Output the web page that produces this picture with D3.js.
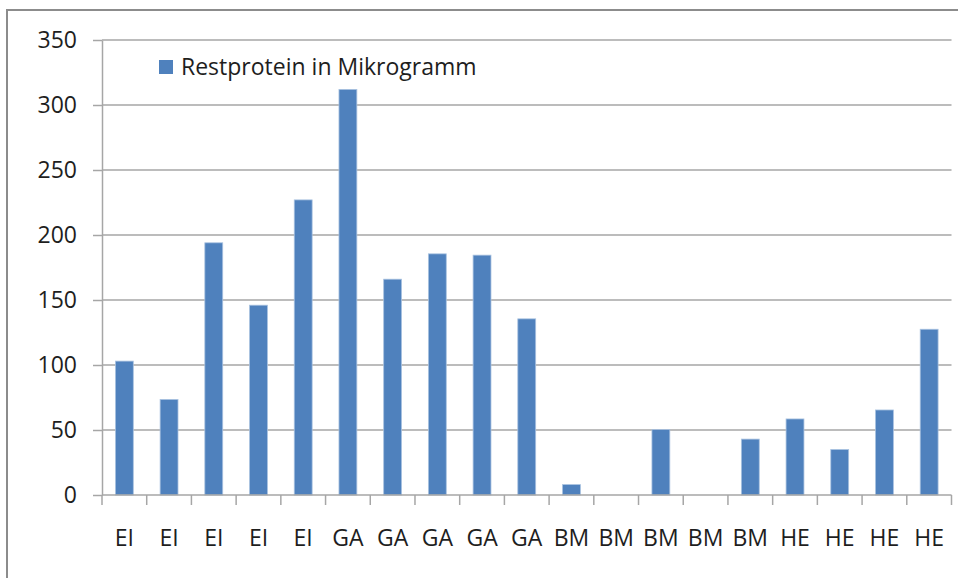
<!DOCTYPE html>
<html>
<head>
<meta charset="utf-8">
<script src="https://cdn.jsdelivr.net/npm/d3@7/dist/d3.min.js"></script>
<style>
html, body { margin: 0; padding: 0; background: #fff; }
svg { display: block; }
text { font-family: "Open Sans", Lato, sans-serif; fill: #1e1e1e; }
</style>
</head>
<body>
<svg id="chart" width="958" height="578"></svg>
<script>
const categories = ["EI","EI","EI","EI","EI","GA","GA","GA","GA","GA","BM","BM","BM","BM","BM","HE","HE","HE","HE"];
const values = [103, 73.5, 194, 146, 227, 312, 166, 185.5, 184.5, 135.5, 8, 0, 50.3, 0, 43, 58.5, 35, 65.4, 127.5];
const yTicks = [0, 50, 100, 150, 200, 250, 300, 350];
const seriesName = "Restprotein in Mikrogramm";

(function () {
const svg = d3.select("#chart");
const pLeft = 102, pRight = 951.5, pTop = 40, pBottom = 495;
const fs = 23;

// outer border
svg.append("rect").attr("x", 7).attr("y", 10).attr("width", 1000).attr("height", 1000)
  .attr("fill", "none").attr("stroke", "#8c8c8c").attr("stroke-width", 2);

const idx = categories.map((d, i) => i);
const x = d3.scaleBand().domain(idx).range([pLeft, pRight]).paddingInner(0.6).paddingOuter(0.3);
const step = x.step();
const y = d3.scaleLinear().domain([0, 350]).range([pBottom, pTop]);

// gridlines
svg.append("g").selectAll("line").data(yTicks.filter(t => t > 0)).join("line")
  .attr("x1", pLeft).attr("x2", pRight).attr("y1", d => y(d)).attr("y2", d => y(d))
  .attr("stroke", "#a6a6a6").attr("stroke-width", 1.5);

// y axis
const yAxis = d3.axisLeft(y).tickValues(yTicks).tickSize(9).tickPadding(16).tickSizeOuter(0);
const gy = svg.append("g").attr("transform", `translate(${pLeft},0)`).call(yAxis);
gy.select(".domain").attr("stroke", "#a6a6a6").attr("stroke-width", 1.5);
gy.selectAll(".tick line").attr("stroke", "#a6a6a6").attr("stroke-width", 1.5);
gy.selectAll(".tick text").attr("font-size", fs).attr("font-family", "'Open Sans', sans-serif").attr("fill", "#1e1e1e");

// bars
svg.append("g").selectAll("rect").data(values).join("rect")
  .attr("x", (d, i) => x(i)).attr("width", x.bandwidth())
  .attr("y", d => y(d)).attr("height", d => y(0) - y(d))
  .attr("fill", "#4f81bd").attr("stroke", "#a9c2e0").attr("stroke-width", 0.8)
  .attr("display", d => d > 0 ? null : "none");

// x axis
svg.append("line").attr("x1", pLeft).attr("x2", pRight).attr("y1", pBottom).attr("y2", pBottom)
  .attr("stroke", "#a6a6a6").attr("stroke-width", 1.5);
const bounds = idx.map(i => x(i) - step * 0.3).concat([pRight]);
svg.append("g").selectAll("line").data(bounds).join("line")
  .attr("x1", d => d).attr("x2", d => d).attr("y1", pBottom).attr("y2", pBottom + 10)
  .attr("stroke", "#a6a6a6").attr("stroke-width", 1.5);
svg.append("g").selectAll("text").data(categories).join("text")
  .attr("x", (d, i) => x(i) + x.bandwidth() / 2).attr("y", 546)
  .attr("text-anchor", "middle").attr("font-size", fs).text(d => d);

// legend
const lg = svg.append("g");
lg.append("rect").attr("x", 159).attr("y", 60).attr("width", 14).attr("height", 14).attr("fill", "#4f81bd");
lg.append("text").attr("x", 181).attr("y", 75).attr("font-size", fs).text(seriesName);
})();
</script>
</body>
</html>
